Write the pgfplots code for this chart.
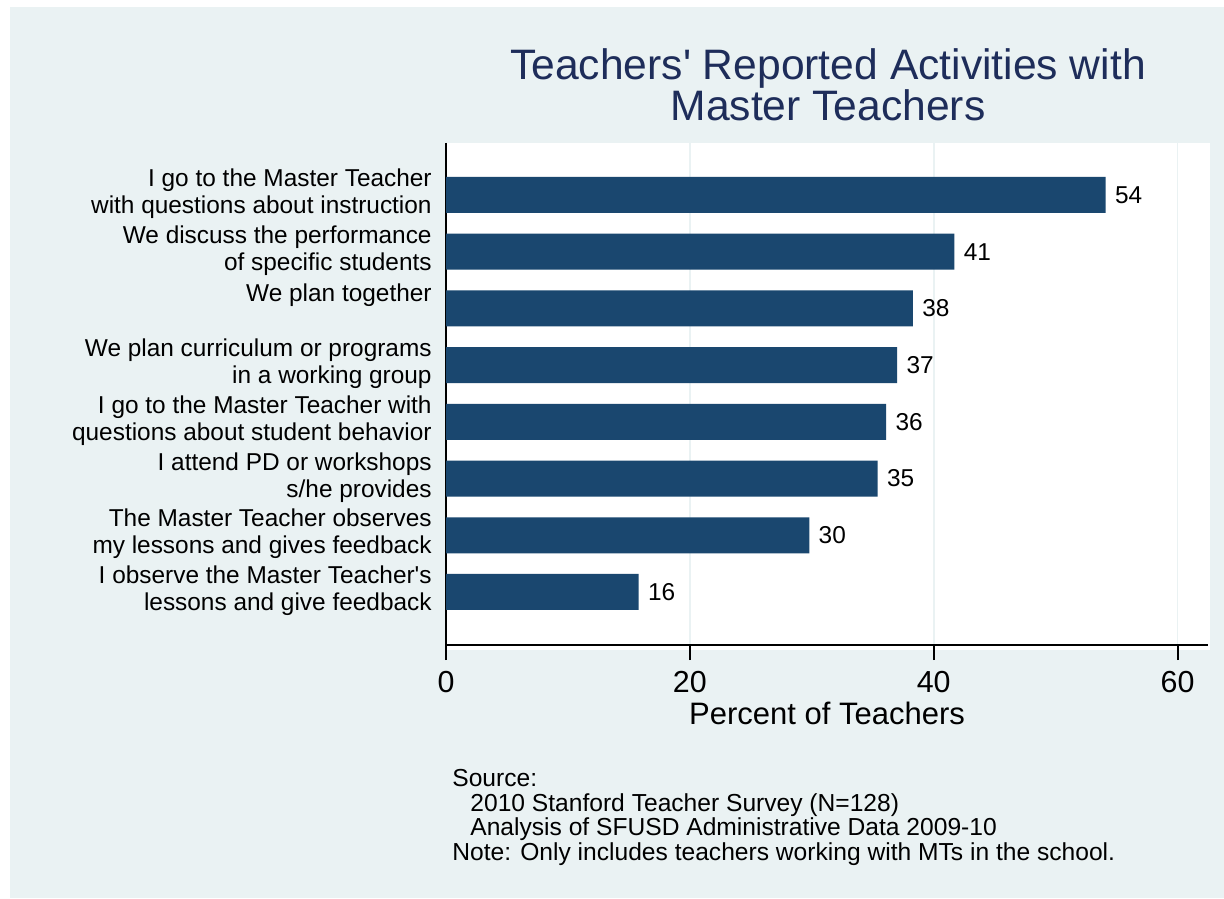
\documentclass[border=0pt]{standalone}
\usepackage{pgfplots}
\pgfplotsset{compat=1.18}
\usepackage{fontspec}
\setmainfont{Liberation Sans}
\definecolor{bgc}{RGB}{234,242,243}
\definecolor{barc}{RGB}{26,71,111}
\definecolor{titc}{RGB}{30,45,90}
\begin{document}
\begin{tikzpicture}[x=1pt,y=1pt]
\useasboundingbox (0,0) rectangle (612,449);
\fill[white] (0,0) rectangle (612,449);
\fill[bgc] (5,0) rectangle (612,445.5);
\fill[white] (223,124) rectangle (605,377.5);
\begin{axis}[
  at={(223pt,126.5pt)}, anchor=south west,
  scale only axis, width=381pt, height=251pt,
  xbar, bar width=18pt,
  xmin=0, xmax=62.5,
  ymin=0.083, ymax=8.935, y dir=reverse,
  ytick={1,2,3,4,5,6,7,8},
  yticklabels={
    {I go to the Master Teacher\strut\\with questions about instruction\strut},
    {We discuss the performance\strut\\of specific students\strut},
    {We plan together\strut\\\strut},
    {We plan curriculum or programs\strut\\in a working group\strut},
    {I go to the Master Teacher with\strut\\questions about student behavior\strut},
    {I attend PD or workshops\strut\\s/he provides\strut},
    {The Master Teacher observes\strut\\my lessons and gives feedback\strut},
    {I observe the Master Teacher\textquotesingle s\strut\\lessons and give feedback\strut}},
  yticklabel style={anchor=east, align=right, inner sep=0pt, xshift=0.5pt,
    font=\fontsize{12.2}{12.5}\selectfont},
  xtick={0,20,40,60},
  /pgf/number format/assume math mode=true,
  xticklabel style={anchor=base, inner sep=0pt, yshift=-16.3pt,
    font=\fontsize{15.2}{18}\selectfont},
  xlabel={Percent of Teachers},
  xlabel style={at={(axis description cs:0.5,0)}, anchor=base, inner sep=0pt,
    yshift=-39.75pt, font=\fontsize{15.5}{18}\selectfont},
  axis x line*=bottom, axis y line*=left,
  axis line style={-, line width=1pt, black},
  xmajorgrids, grid style={bgc, line width=0.9pt},
  major tick length=7.5pt, tick align=outside,
  xtick style={black, line width=1pt},
  ytick style={draw=none},
  nodes near coords, point meta=explicit symbolic,
  nodes near coords style={anchor=west, inner sep=0pt, xshift=4.5pt,
    font=\fontsize{12.2}{14}\selectfont, black},
]
\addplot[fill=barc, draw=none] coordinates {
  (54.1,1) [54]
  (41.7,2) [41]
  (38.3,3) [38]
  (37.0,4) [37]
  (36.1,5) [36]
  (35.4,6) [35]
  (29.8,7) [30]
  (15.8,8) [16]
};
\end{axis}
\node[anchor=base, titc, inner sep=0pt, font=\fontsize{21.3}{25}\selectfont] at (414,409) {Teachers\textquotesingle\ Reported Activities with};
\node[anchor=base, titc, inner sep=0pt, font=\fontsize{21.3}{25}\selectfont] at (414,388.5) {Master Teachers};
\node[anchor=base west, inner sep=0pt, font=\fontsize{12.3}{14}\selectfont] at (226,55.5) {Source:};
\node[anchor=base west, inner sep=0pt, font=\fontsize{12.3}{14}\selectfont] at (235,43.3) {2010 Stanford Teacher Survey (N=128)};
\node[anchor=base west, inner sep=0pt, font=\fontsize{12.3}{14}\selectfont] at (235,31.1) {Analysis of SFUSD Administrative Data 2009-10};
\node[anchor=base west, inner sep=0pt, font=\fontsize{12.3}{14}\selectfont] at (226,18.9) {Note: Only includes teachers working with MTs in the school.};
\end{tikzpicture}
\end{document}
